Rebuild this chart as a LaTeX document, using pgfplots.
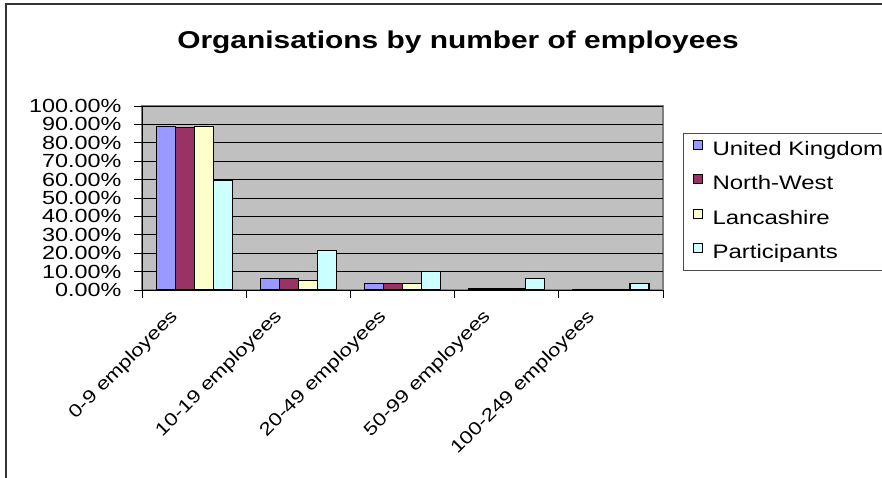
\documentclass[border=0pt]{standalone}
\usepackage{pgfplots}
\pgfplotsset{compat=1.18}
\usepackage{fontspec}
\setmainfont{Liberation Sans}[FakeStretch=1.23]

\definecolor{ukc}{HTML}{9999FF}
\definecolor{nwc}{HTML}{993366}
\definecolor{lac}{HTML}{FFFFCC}
\definecolor{pac}{HTML}{CCFFFF}
\definecolor{plotbg}{HTML}{C0C0C0}

\begin{document}
\begin{tikzpicture}
\useasboundingbox (0,0) rectangle (882pt,477pt);
\clip (0,0) rectangle (882pt,477pt);
\draw[line width=2pt, color=black!80] (6pt,-5pt) -- (6pt,473pt) -- (890pt,473pt);
\node[font=\fontsize{24.3}{28}\selectfont\bfseries] at (458pt,435pt) {Organisations by number of employees};
\begin{axis}[
  at={(142pt,187pt)}, anchor=south west, scale only axis,
  width=521pt, height=184pt,
  xmin=-0.5, xmax=4.5, ymin=0, ymax=100,
  axis x line*=bottom, axis y line*=left,
  axis line style={black, line width=1pt},
  axis background/.style={fill=plotbg, draw=gray, line width=1.5pt},
  /pgf/number format/assume math mode=true,
  ytick={0,10,...,100},
  yticklabels={0.00\%,10.00\%,20.00\%,30.00\%,40.00\%,50.00\%,60.00\%,70.00\%,80.00\%,90.00\%,100.00\%},
  yticklabel style={xshift=-9pt, font=\fontsize{19}{19}\selectfont},
  ymajorgrids, major grid style={black, line width=0.8pt},
  tick style={black, line width=1pt}, tick align=outside, major tick length=8pt,
  xtick={-0.5,0.5,1.5,2.5,3.5,4.5},
  xticklabels={,,,,,},
  extra x ticks={0,1,2,3,4},
  extra x tick labels={0-9 employees,10-19 employees,20-49 employees,50-99 employees,100-249 employees},
  extra x tick style={major tick length=0pt, xticklabel style={xshift=-25pt, yshift=-13pt, rotate=45, anchor=north east, font=\fontsize{18}{18}\selectfont}},
  ybar=0pt, bar width=19pt,
  legend cell align=left,
  legend image code/.code={\draw[#1, line width=1pt] (0pt,1.5pt) rectangle (9pt,10.5pt);},
  legend style={at={(1.0384,0.853)}, anchor=north west, draw=black!70, line width=1pt, fill=white,
    font=\fontsize{19.5}{19.5}\selectfont, inner xsep=9pt, inner ysep=6pt, row sep=13pt,
    nodes={text height=13pt, text depth=4pt, inner ysep=2pt},
    /tikz/every odd column/.append style={column sep=8pt}},
]
\addplot[fill=ukc, draw=black, line width=1.2pt] coordinates {(0,88.7) (1,6.4) (2,3.6) (3,0.7) (4,0.4)};
\addplot[fill=nwc, draw=black, line width=1.2pt] coordinates {(0,88.2) (1,6.4) (2,3.6) (3,0.7) (4,0.4)};
\addplot[fill=lac, draw=black, line width=1.2pt] coordinates {(0,88.7) (1,5.3) (2,3.5) (3,0.7) (4,0.4)};
\addplot[fill=pac, draw=black, line width=1.2pt] coordinates {(0,59.8) (1,21.3) (2,10.0) (3,6.3) (4,3.5)};
\legend{United Kingdom,North-West,Lancashire,Participants}
\end{axis}
\end{tikzpicture}
\end{document}
